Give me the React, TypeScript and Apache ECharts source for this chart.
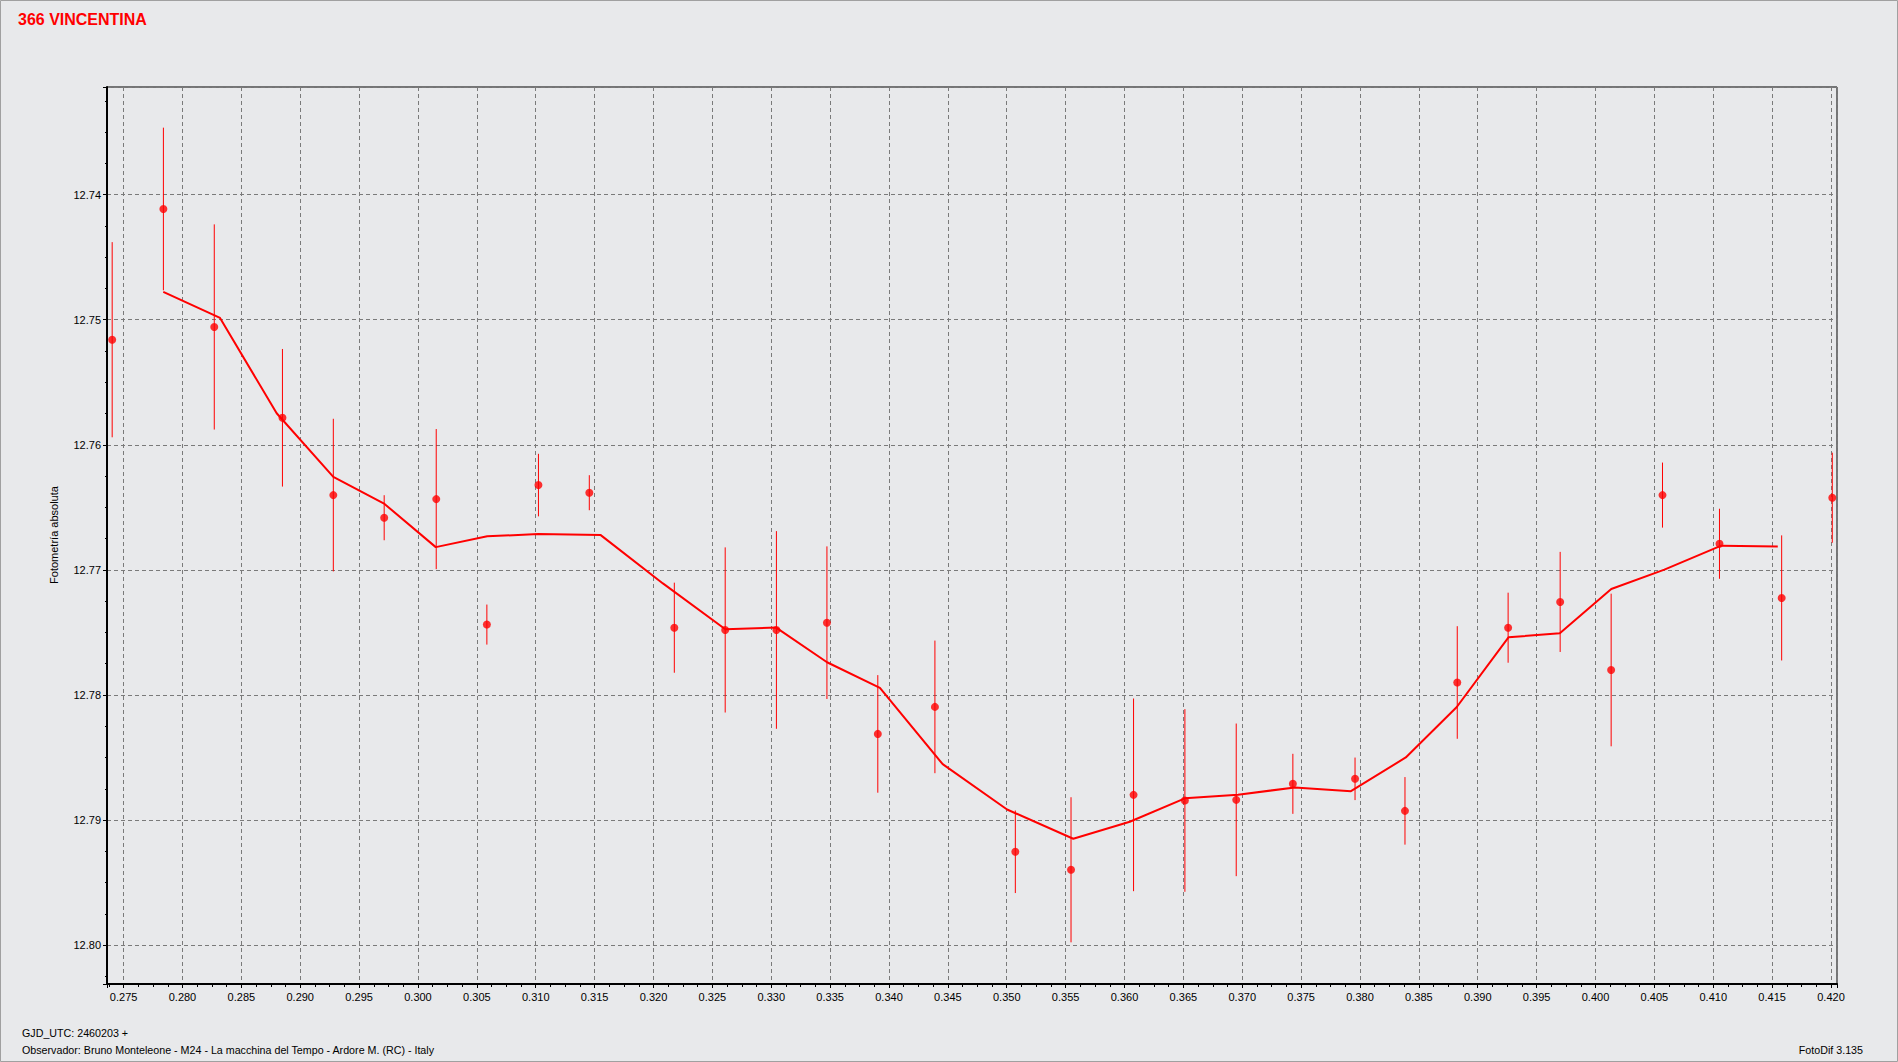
import React, { useEffect, useRef } from "react";
import * as echarts from "echarts";

const titleText = "366 VINCENTINA";
const yAxisName = "Fotometría absoluta";
const footerLine1 = "GJD_UTC: 2460203 +";
const footerLine2 = "Observador: Bruno Monteleone - M24 - La macchina del Tempo - Ardore M. (RC) - Italy";
const footerRight = "FotoDif 3.135";

// Observations: phase (GJD fraction), magnitude, error half-length
const obsX = [
  0.27403, 0.27838, 0.2827, 0.28849, 0.29281, 0.29713, 0.30155, 0.30585,
  0.31023, 0.31455, 0.32177, 0.32609, 0.33044, 0.33473, 0.33905, 0.3439,
  0.35073, 0.35546, 0.36077, 0.36513, 0.36949, 0.3743, 0.37958, 0.38382,
  0.38826, 0.39258, 0.397, 0.40133, 0.40569, 0.41053, 0.41581, 0.42011,
];
const obsMag = [
  12.7516, 12.74115, 12.75058, 12.75784, 12.76402, 12.76583, 12.76434, 12.77437,
  12.76322, 12.76383, 12.77462, 12.7748, 12.7748, 12.77422, 12.78311, 12.78095,
  12.79253, 12.79397, 12.78798, 12.78843, 12.78838, 12.7871, 12.7867, 12.78926,
  12.779, 12.77462, 12.77256, 12.778, 12.76402, 12.76791, 12.77224, 12.76423,
];
const obsErr = [
  0.0078, 0.0065, 0.0082, 0.0055, 0.0061, 0.0018, 0.0056, 0.0016,
  0.0025, 0.0014, 0.0036, 0.0066, 0.0079, 0.0061, 0.0047, 0.0053,
  0.0033, 0.0058, 0.0077, 0.0073, 0.0061, 0.0024, 0.0017, 0.0027,
  0.0045, 0.0028, 0.004, 0.0061, 0.0026, 0.0028, 0.005, 0.0036,
];

// Smoothed curve vertices
const fitX = [
  0.27837, 0.28319, 0.288, 0.29281, 0.29716, 0.30151, 0.30588, 0.31021,
  0.31552, 0.3208, 0.3261, 0.33042, 0.33474, 0.33923, 0.34456, 0.35003,
  0.35565, 0.36045, 0.36513, 0.36964, 0.37446, 0.37923, 0.38389, 0.38822,
  0.39261, 0.39697, 0.40134, 0.40585, 0.41068, 0.41548,
];
const fitMag = [
  12.74778, 12.74986, 12.75748, 12.76256, 12.76473, 12.76818, 12.76731, 12.76714,
  12.76722, 12.77108, 12.77474, 12.77461, 12.77738, 12.77943, 12.78553, 12.78915,
  12.79149, 12.79013, 12.78826, 12.78797, 12.78739, 12.78769, 12.78499, 12.78096,
  12.77539, 12.77506, 12.77153, 12.76998, 12.76806, 12.76813,
];

const xMin = 0.27359;
const xMax = 0.42051;
const yMin = 12.7314;
const yMax = 12.8031;

const FONT = "'Liberation Sans', Arial, sans-serif";
const BG = "#e8e9eb";
const RED = "#ff0000";

export default function App() {
  const ref = useRef<HTMLDivElement>(null);

  useEffect(() => {
    if (!ref.current) return;
    const chart = echarts.init(ref.current, undefined, { renderer: "svg" });

    const obsData = obsX.map((x, i) => [x, obsMag[i], obsErr[i]]);
    const fitData = fitX.map((x, i) => [x, fitMag[i]]);

    const option: any = {
      animation: false,
      backgroundColor: BG,
      textStyle: { fontFamily: FONT },
      grid: {
        left: 107,
        top: 87,
        right: 61,
        bottom: 78,
        show: true,
        borderColor: "#000",
        borderWidth: 1,
        backgroundColor: "transparent",
        containLabel: false,
      },
      xAxis: {
        type: "value",
        min: xMin,
        max: xMax,
        splitNumber: 29,
        minInterval: 0.005,
        maxInterval: 0.005,
        axisLine: { show: true, onZero: false, lineStyle: { color: "#000", width: 2 } },
        axisTick: { show: true, length: 4, lineStyle: { color: "#000", width: 1 } },
        minorTick: { show: true, splitNumber: 4, length: 3, lineStyle: { color: "#000", width: 1 } },
        axisLabel: {
          show: true,
          color: "#000",
          fontSize: 11,
          fontFamily: FONT,
          margin: 7,
          showMinLabel: false,
          showMaxLabel: false,
          formatter: (v: number) => v.toFixed(3),
        },
        splitLine: { show: true, lineStyle: { color: "#7a7a7a", width: 1, type: [4, 3] } },
        minorSplitLine: { show: false },
      },
      yAxis: {
        type: "value",
        inverse: true,
        min: yMin,
        max: yMax,
        splitNumber: 7,
        minInterval: 0.01,
        maxInterval: 0.01,
        axisLine: { show: true, onZero: false, lineStyle: { color: "#000", width: 2 } },
        axisTick: { show: true, length: 4, lineStyle: { color: "#000", width: 1 } },
        minorTick: { show: true, splitNumber: 4, length: 2, lineStyle: { color: "#000", width: 1 } },
        axisLabel: {
          show: true,
          color: "#000",
          fontSize: 11,
          fontFamily: FONT,
          margin: 6,
          showMinLabel: false,
          showMaxLabel: false,
          formatter: (v: number) => v.toFixed(2),
        },
        splitLine: { show: true, lineStyle: { color: "#7a7a7a", width: 1, type: [4, 3] } },
      },
      series: [
        {
          type: "custom",
          name: "err",
          data: obsData,
          encode: { x: 0, y: 1 },
          z: 2,
          renderItem: (_params: any, api: any) => {
            const x = api.value(0);
            const y = api.value(1);
            const e = api.value(2);
            const p1 = api.coord([x, y - e]);
            const p2 = api.coord([x, y + e]);
            return {
              type: "line",
              shape: { x1: p1[0], y1: p1[1], x2: p2[0], y2: p2[1] },
              style: { stroke: RED, lineWidth: 1 },
            };
          },
        },
        {
          type: "line",
          name: "fit",
          data: fitData,
          showSymbol: false,
          symbol: "none",
          z: 3,
          lineStyle: { color: RED, width: 2 },
        },
        {
          type: "scatter",
          name: "obs",
          data: obsData.map((d) => [d[0], d[1]]),
          symbol: "circle",
          symbolSize: 8,
          z: 4,
          itemStyle: { color: RED },
        },
      ],
      graphic: [
        {
          type: "rect",
          shape: { x: 0.5, y: 0.5, width: 1897, height: 1061 },
          style: { fill: "none", stroke: "#a0a0a0", lineWidth: 1 },
          silent: true,
          z: 0,
        },
        {
          type: "text",
          x: 18,
          y: 19,
          style: {
            text: titleText,
            fill: RED,
            font: `bold 16px ${FONT}`,
            align: "left",
            verticalAlign: "middle",
            textAlign: "left",
            textVerticalAlign: "middle",
          },
        },
        {
          type: "text",
          x: 54,
          y: 535,
          rotation: Math.PI / 2,
          style: {
            text: yAxisName,
            fill: "#000",
            font: `11px ${FONT}`,
            align: "center",
            verticalAlign: "middle",
            textAlign: "center",
            textVerticalAlign: "middle",
          },
        },
        {
          type: "text",
          x: 22,
          y: 1033,
          style: {
            text: footerLine1,
            fill: "#000",
            font: `10.7px ${FONT}`,
            align: "left",
            verticalAlign: "middle",
            textAlign: "left",
            textVerticalAlign: "middle",
          },
        },
        {
          type: "text",
          x: 22,
          y: 1050,
          style: {
            text: footerLine2,
            fill: "#000",
            font: `10.7px ${FONT}`,
            align: "left",
            verticalAlign: "middle",
            textAlign: "left",
            textVerticalAlign: "middle",
          },
        },
        {
          type: "text",
          x: 1863,
          y: 1050,
          style: {
            text: footerRight,
            fill: "#000",
            font: `10.7px ${FONT}`,
            align: "right",
            verticalAlign: "middle",
            textAlign: "right",
            textVerticalAlign: "middle",
          },
        },
      ],
    };

    chart.setOption(option);
    return () => {
      chart.dispose();
    };
  }, []);

  return (
    <div
      ref={ref}
      style={{ position: "fixed", left: 0, top: 0, width: 1898, height: 1062 }}
    />
  );
}
